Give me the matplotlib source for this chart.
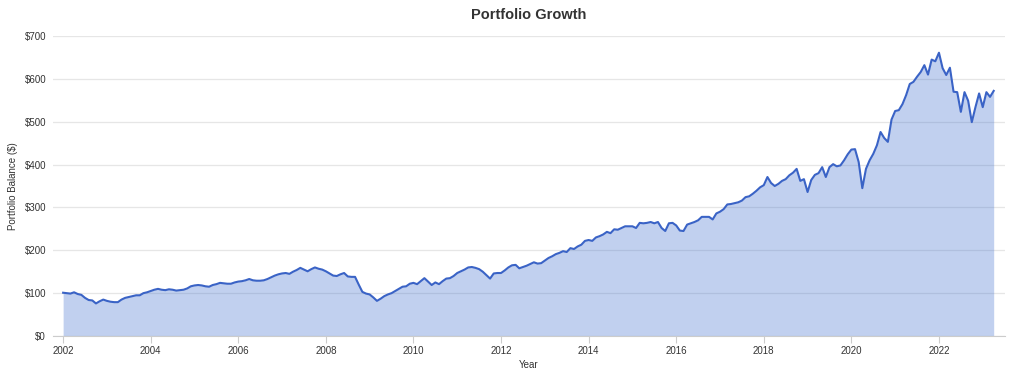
import matplotlib
import numpy as np

matplotlib.use("Agg")
import matplotlib.pyplot as plt
from matplotlib.ticker import FuncFormatter, MultipleLocator

plt.rcParams["font.family"] = ["Liberation Sans", "DejaVu Sans"]

# 月度组合余额，2002-01 起（读自参考图）
start_year = 2002
balance = [
    101, 100, 99, 102, 98, 96, 89, 84, 83, 76, 81, 85,          # 2002
    82, 80, 79, 79, 85, 89, 91, 93, 95, 95, 100, 102,           # 2003
    105, 108, 110, 108, 107, 109, 108, 106, 107, 108, 111, 116,  # 2004
    118, 119, 118, 116, 115, 119, 121, 124, 123, 122, 122, 125,  # 2005
    127, 128, 130, 133, 130, 129, 129, 130, 133, 137, 141, 144,  # 2006
    146, 147, 145, 150, 154, 159, 155, 151, 156, 160, 157, 155,  # 2007
    151, 146, 141, 140, 144, 147, 139, 138, 138, 120, 103, 99,   # 2008
    97, 90, 82, 87, 93, 97, 100, 105, 110, 115, 116, 122,        # 2009
    124, 121, 128, 135, 127, 119, 125, 121, 128, 134, 135, 140,  # 2010
    147, 151, 155, 160, 161, 159, 156, 150, 142, 134, 146, 147,  # 2011
    147, 153, 160, 165, 166, 158, 161, 164, 168, 172, 169, 170,  # 2012
    176, 182, 186, 191, 194, 198, 196, 205, 203, 209, 213, 222,  # 2013
    224, 222, 230, 233, 237, 243, 240, 249, 248, 252, 256, 256,  # 2014
    256, 252, 264, 263, 264, 266, 263, 266, 252, 245, 263, 264,  # 2015
    258, 246, 245, 260, 263, 266, 270, 278, 278, 278, 272, 286,  # 2016
    290, 296, 307, 308, 310, 312, 316, 324, 326, 332, 339, 347,  # 2017
    352, 371, 357, 350, 355, 362, 366, 375, 381, 390, 362, 366,  # 2018
    336, 364, 376, 380, 394, 371, 394, 401, 396, 398, 410, 424,  # 2019
    435, 436, 406, 345, 390, 410, 425, 445, 476, 462, 453, 505,  # 2020
    525, 527, 541, 562, 588, 593, 605, 616, 632, 610, 645, 641,  # 2021
    661, 625, 609, 626, 570, 569, 523, 569, 549, 499, 534, 566,  # 2022
    534, 569, 558, 572,                                          # 2023
]
x_ticks = list(range(2002, 2023, 2))

years = start_year + np.arange(len(balance)) / 12
values = np.array(balance)

fig = plt.figure(figsize=(10.24, 3.69), dpi=100)
ax = fig.add_axes([0.0518, 0.0894, 0.9293, 0.813])

line_color = "#3a63c6"
ax.fill_between(years, 0, values, color="#3366cc", alpha=0.3, linewidth=0, zorder=2)
ax.plot(years, values, color=line_color, linewidth=1.5, zorder=3)

ax.set_xlim(2001.77, 2023.5)
ax.set_ylim(0, 700)
ax.set_xticks(x_ticks)
ax.yaxis.set_major_locator(MultipleLocator(100))
ax.yaxis.set_major_formatter(FuncFormatter(lambda v, _: f"${v:.0f}"))

ax.grid(axis="y", color="#e6e6e6", linewidth=0.9, zorder=1)
ax.set_axisbelow(True)
for side in ("top", "right", "left"):
    ax.spines[side].set_visible(False)
ax.spines["bottom"].set_color("#cccccc")
ax.spines["bottom"].set_linewidth(0.8)

ax.tick_params(axis="y", length=0, pad=5, labelsize=7, labelcolor="#333333")
ax.tick_params(axis="x", length=5, width=0.8, color="#cccccc", pad=2,
               labelsize=7, labelcolor="#333333")

ax.set_xlabel("Year", fontsize=7, color="#333333", labelpad=3)
ax.set_ylabel("Portfolio Balance ($)", fontsize=7, color="#333333", labelpad=5)
ax.set_title("Portfolio Growth", fontsize=10.5, fontweight="bold", color="#333333", pad=12)

fig.savefig("out.png", dpi=100)
plt.close(fig)
